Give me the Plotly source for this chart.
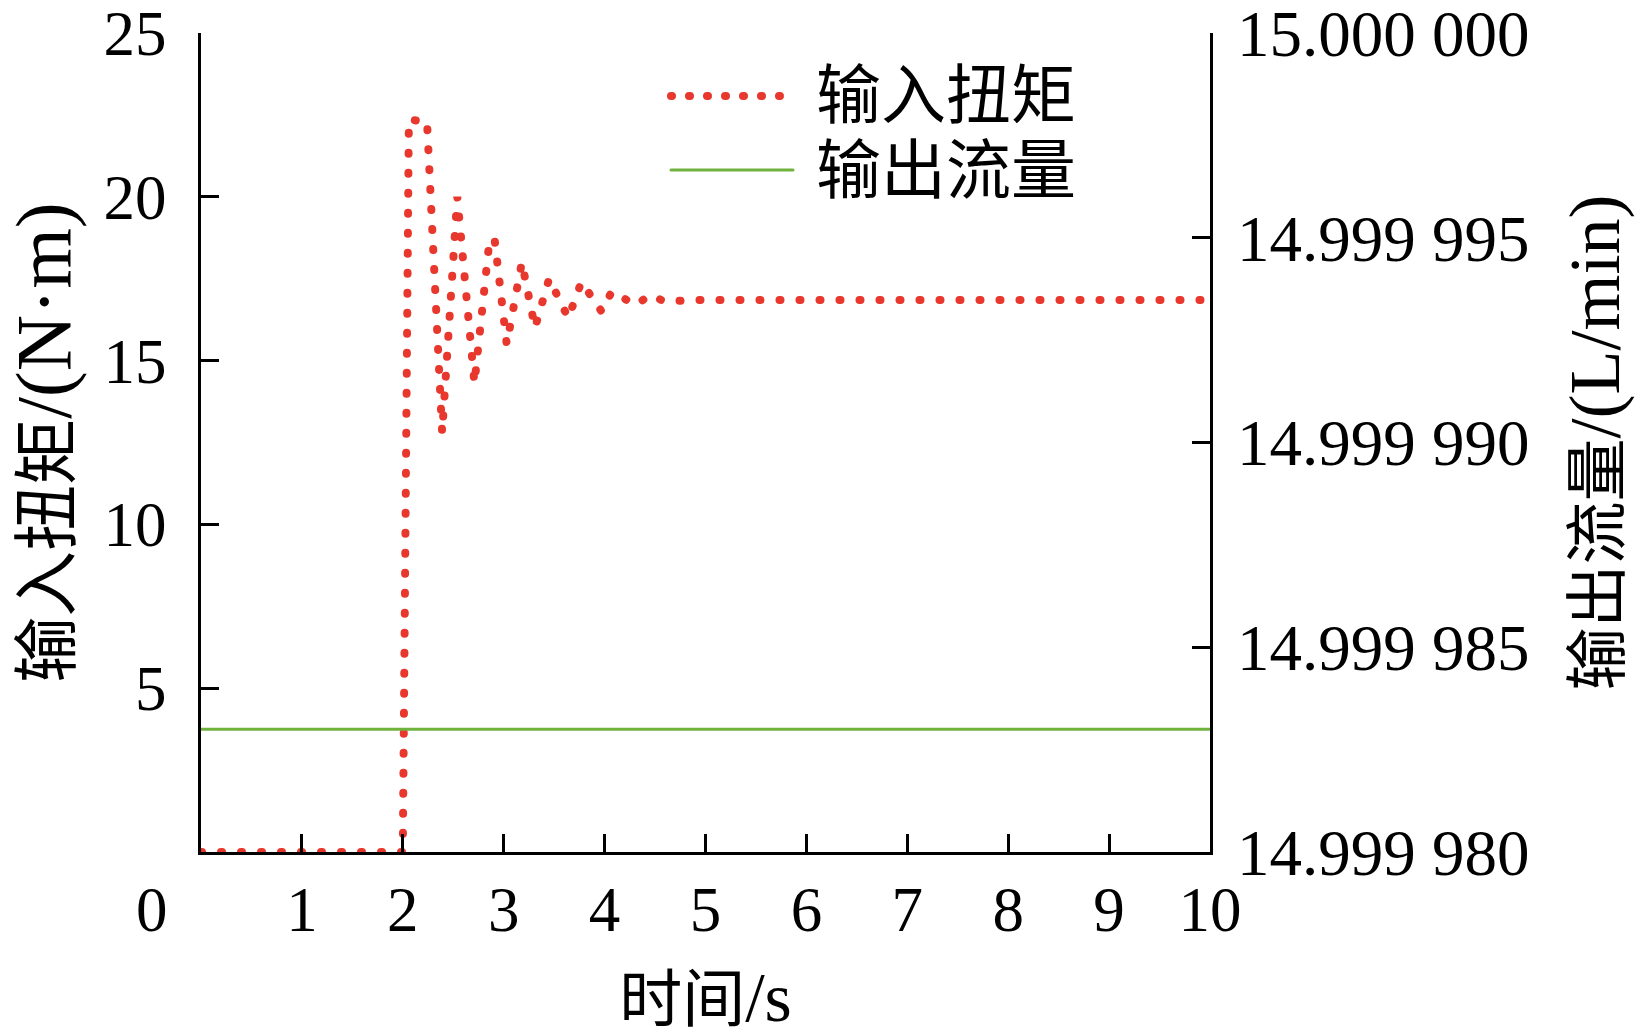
import plotly.graph_objects as go

# ---- data ----
time_torque = [0, 2.0, 2.06, 2.24, 2.39, 2.54, 2.71, 2.86, 2.91, 3.03, 3.18, 3.31,
               3.45, 3.64, 3.77, 3.97, 4.07, 4.31, 4.45, 4.60, 4.90, 10]
torque = [0, 0, 22.35, 22.3, 12.8, 20.0, 14.3, 18.7, 18.7, 15.5, 18.0, 16.0,
          17.5, 16.3, 17.4, 16.5, 17.1, 16.7, 17.0, 16.8, 16.85, 16.85]
time_flow = [0, 10]
flow = [14.999983, 14.999983]

x_ticks = [1, 2, 3, 4, 5, 6, 7, 8, 9, 10]
y_ticks = [5, 10, 15, 20, 25]
y2_ticks = [14.999980, 14.999985, 14.999990, 14.999995, 15.000000]
y2_ticktext = ["14.999 980", "14.999 985", "14.999 990", "14.999 995", "15.000 000"]

RED = "rgb(232,56,46)"
GREEN = "rgb(112,178,62)"
SERIF = "Liberation Serif, Times New Roman, Noto Sans CJK SC"

fig = go.Figure()
fig.add_trace(go.Scatter(x=time_flow, y=flow, yaxis="y2", mode="lines",
                         line=dict(color=GREEN, width=3), name="输出流量", showlegend=False))
fig.add_trace(go.Scatter(x=time_torque, y=torque, mode="lines",
                         line=dict(color=RED, width=8, dash="1px,19px"),
                         name="输入扭矩", showlegend=False))

axis_common = dict(showline=True, linecolor="black", linewidth=3, ticks="inside",
                   ticklen=18, tickwidth=3, tickcolor="black", showgrid=False,
                   zeroline=False, automargin=False, ticklabeloverflow="allow")

fig.update_layout(
    width=1641, height=1036,
    margin=dict(l=201, r=431, t=33, b=184),
    plot_bgcolor="white", paper_bgcolor="white",
    xaxis=dict(range=[0, 10], tickvals=x_ticks, ticklabelstandoff=0,
               tickfont=dict(family=SERIF, size=63, color="black"),
               title=dict(text='时间<span style="font-size:70px">/s</span>',
                          font=dict(family=SERIF, size=63, color="black"), standoff=34),
               **axis_common),
    yaxis=dict(range=[0, 25], tickvals=y_ticks, ticklabelstandoff=19,
               tickfont=dict(family=SERIF, size=63, color="black"),
               title=dict(text='输入扭矩<span style="font-size:78px">/(N·m)</span>',
                          font=dict(family=SERIF, size=66, color="black"), standoff=57),
               **axis_common),
    yaxis2=dict(range=[14.999980, 15.000000], overlaying="y", side="right",
                tickvals=y2_ticks, ticktext=y2_ticktext, ticklabelstandoff=11,
                tickfont=dict(family=SERIF, size=65, color="black"),
                title=dict(text='输出流量<span style="font-size:72px">/(L/min)</span>',
                           font=dict(family=SERIF, size=63, color="black"), standoff=47),
                **axis_common),
    showlegend=False,
)

# shared origin label "0"
fig.add_annotation(text="0", xref="paper", yref="paper", x=0, y=0, xshift=-49, yshift=-58,
                   xanchor="center", yanchor="middle", showarrow=False,
                   font=dict(family=SERIF, size=63, color="black"))

# manual legend
fig.add_shape(type="line", xref="paper", yref="paper", x0=0.4658, x1=0.5738,
              y0=0.9231, y1=0.9231, line=dict(color=RED, width=8, dash="1px,17px"))
fig.add_shape(type="line", xref="paper", yref="paper", x0=0.4658, x1=0.5867,
              y0=0.8327, y1=0.8327, line=dict(color=GREEN, width=3))
fig.add_annotation(text="输入扭矩", xref="paper", yref="paper", x=0.6080, y=0.9231,
                   xanchor="left", yanchor="middle", showarrow=False,
                   font=dict(family=SERIF, size=65, color="black"))
fig.add_annotation(text="输出流量", xref="paper", yref="paper", x=0.6080, y=0.8315,
                   xanchor="left", yanchor="middle", showarrow=False,
                   font=dict(family=SERIF, size=65, color="black"))

post = """
document.body.style.margin = '0';
var gd = document.getElementById('{plot_id}');
function fixDots(){
  gd.querySelectorAll('.scatterlayer path.js-line, .shapelayer path').forEach(function(p){
    p.style.strokeLinecap = 'round';
  });
  gd.querySelectorAll('g.plot').forEach(function(g){ g.removeAttribute('clip-path'); });
}
fixDots();
gd.on('plotly_afterplot', fixDots);
"""
fig.write_html("out.html", post_script=post, config={"displayModeBar": False})
